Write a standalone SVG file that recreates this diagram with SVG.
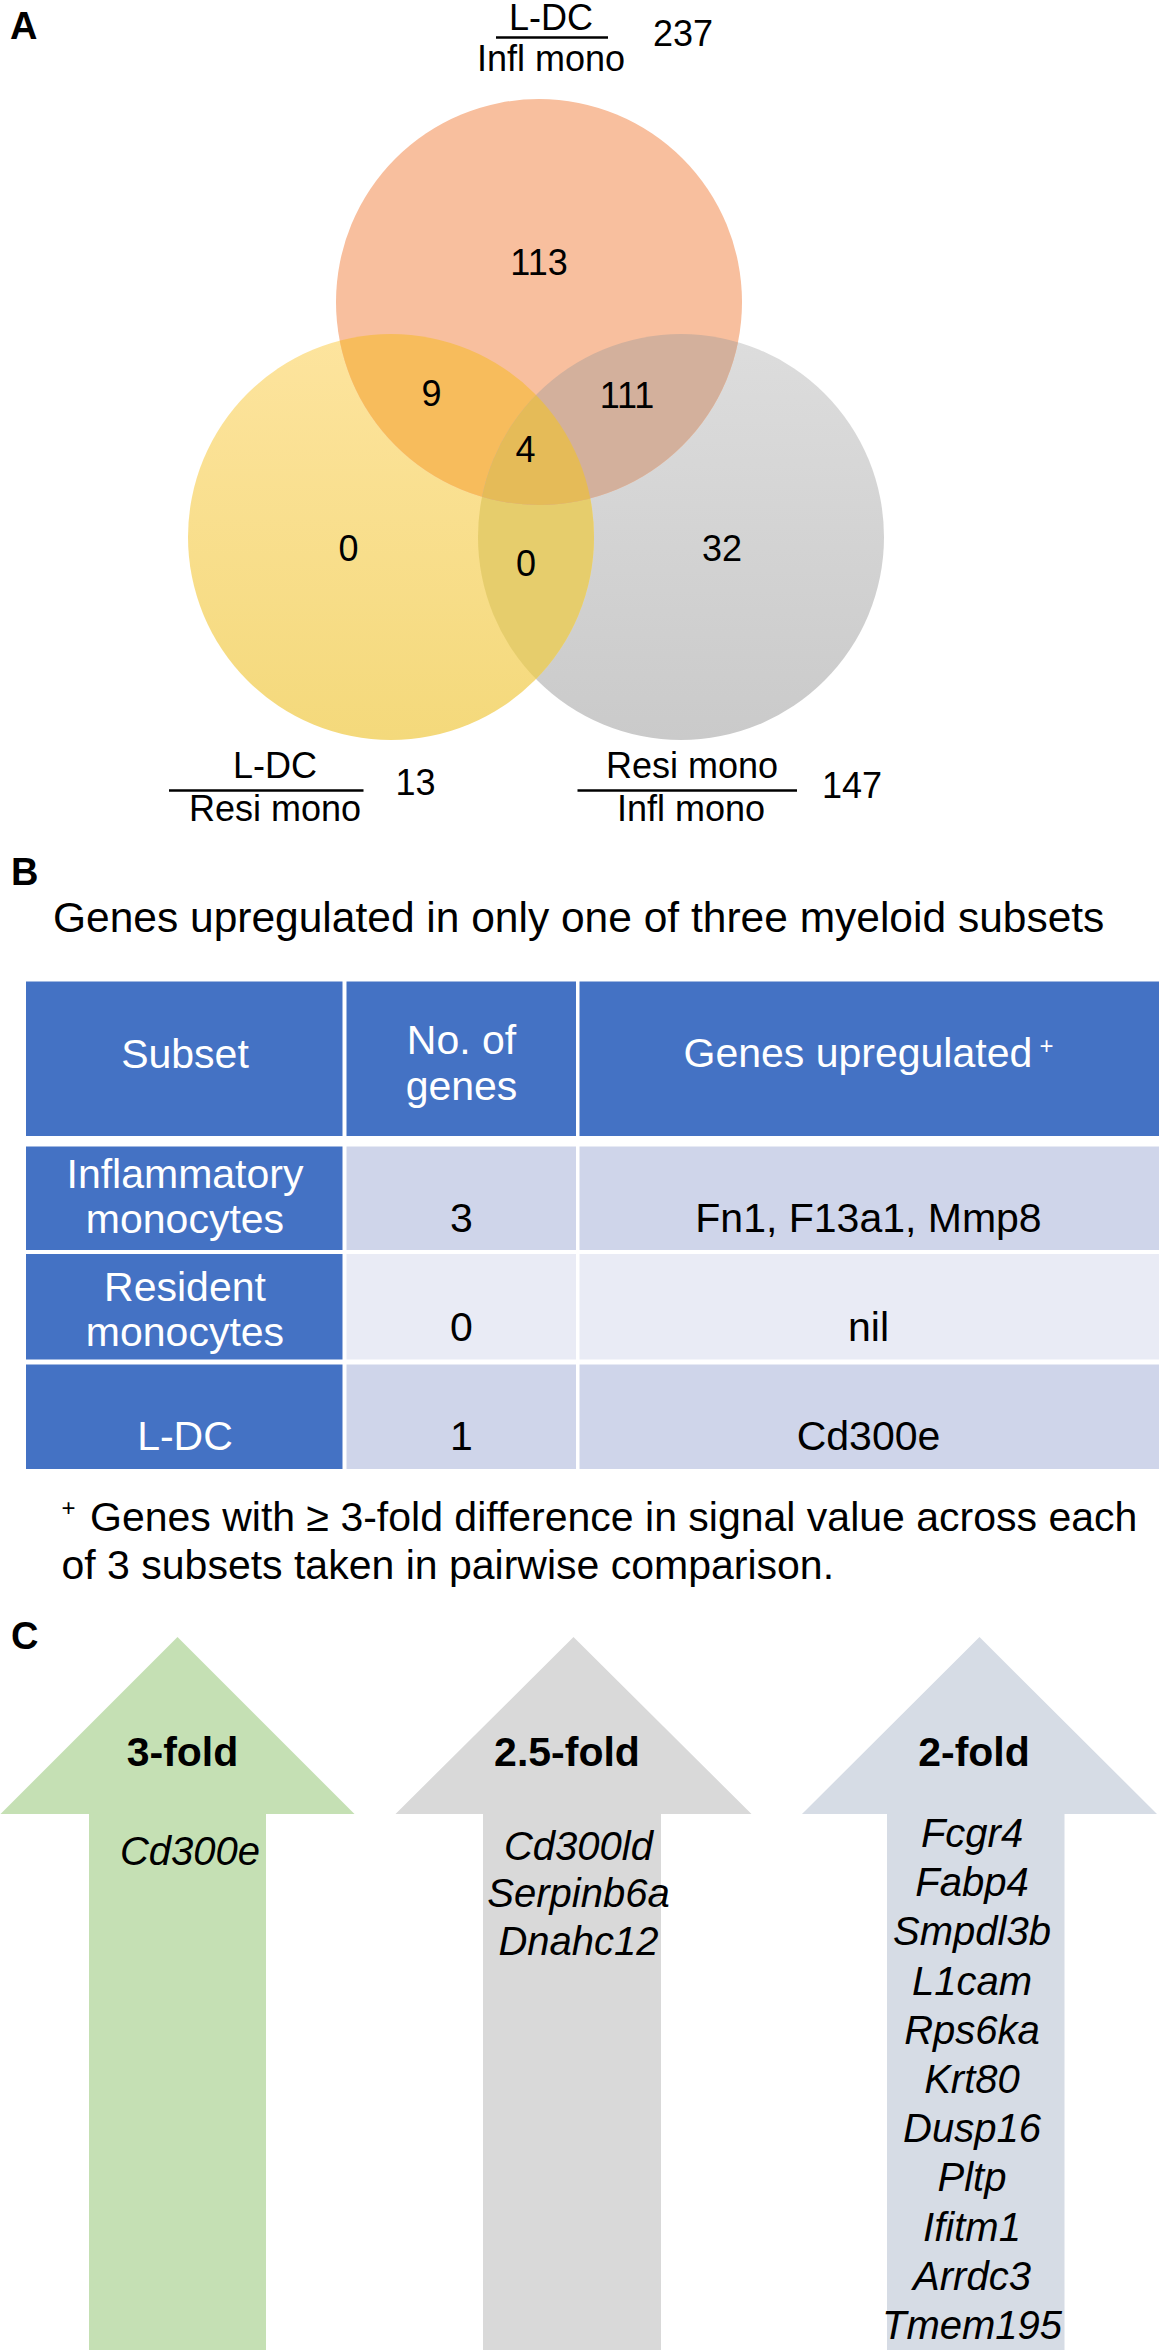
<svg xmlns="http://www.w3.org/2000/svg" width="1159" height="2350" viewBox="0 0 1159 2350">
<style>
text{font-family:"Liberation Sans",Arial,sans-serif;fill:#000}
.v{font-size:36px;text-anchor:middle}
.lbl{font-size:38px;font-weight:bold}
.th{font-size:41px;fill:#fff;text-anchor:middle}
.td{font-size:41px;text-anchor:middle}
.fn{font-size:41px}
.sup{font-size:24px;text-anchor:middle}
.bf{font-size:41px;font-weight:bold;text-anchor:middle}
.it{font-size:40px;font-style:italic;text-anchor:middle}
.bar{stroke:#000;stroke-width:2.5}
.hd{fill:#4472C4}
.r1{fill:#CFD5EA}
.r2{fill:#E9EBF5}
</style>
<defs>
<linearGradient id="gy" x1="0" y1="0" x2="0" y2="1"><stop offset="0" stop-color="#FDE49E"/><stop offset="1" stop-color="#F4D97B"/></linearGradient>
<linearGradient id="gg" x1="0" y1="0" x2="0" y2="1"><stop offset="0" stop-color="#DDDDDD"/><stop offset="1" stop-color="#CACACA"/></linearGradient>
<clipPath id="cS"><circle cx="539" cy="302" r="203"/></clipPath>
<clipPath id="cY"><circle cx="391" cy="537" r="203"/></clipPath>
<clipPath id="cG"><circle cx="681" cy="537" r="203"/></clipPath>
</defs>

<g id="panelA">
<text class="lbl" x="10" y="39">A</text>
<g id="venn">
<circle cx="681" cy="537" r="203" fill="url(#gg)"/>
<circle cx="391" cy="537" r="203" fill="url(#gy)"/>
<circle cx="539" cy="302" r="203" fill="#F8BF9E"/>
<g clip-path="url(#cG)"><circle cx="391" cy="537" r="203" fill="#E6CD6C"/></g>
<g clip-path="url(#cS)"><circle cx="391" cy="537" r="203" fill="#F7BC5C"/></g>
<g clip-path="url(#cS)"><circle cx="681" cy="537" r="203" fill="#D3B09C"/></g>
<g clip-path="url(#cS)"><g clip-path="url(#cY)"><circle cx="681" cy="537" r="203" fill="#E5BB58"/></g></g>
</g>
<g id="venn-numbers">
<text class="v" x="539" y="274.5">113</text>
<text class="v" x="431.5" y="405.5">9</text>
<text class="v" x="627" y="408">111</text>
<text class="v" x="525.5" y="461.5">4</text>
<text class="v" x="348.5" y="561">0</text>
<text class="v" x="526" y="575.5">0</text>
<text class="v" x="722" y="561">32</text>
</g>
<g id="label-top">
<text class="v" x="551" y="30">L-DC</text>
<line class="bar" x1="496" y1="37.5" x2="608" y2="37.5"/>
<text class="v" x="551" y="71">Infl mono</text>
<text class="v" x="683" y="46">237</text>
</g>
<g id="label-left">
<text class="v" x="275" y="777.5">L-DC</text>
<line class="bar" x1="169" y1="790.5" x2="363.5" y2="790.5"/>
<text class="v" x="275" y="821">Resi mono</text>
<text class="v" x="415.5" y="795">13</text>
</g>
<g id="label-right">
<text class="v" x="692" y="777.5">Resi mono</text>
<line class="bar" x1="577.5" y1="790.5" x2="797" y2="790.5"/>
<text class="v" x="691" y="821">Infl mono</text>
<text class="v" x="852" y="798">147</text>
</g>
</g>

<g id="panelB">
<text class="lbl" x="11" y="885">B</text>
<text x="53" y="932" style="font-size:42.5px">Genes upregulated in only one of three myeloid subsets</text>
<g id="table">
<rect class="hd" x="26" y="981.5" width="316.5" height="154.5"/>
<rect class="hd" x="346.5" y="981.5" width="229.5" height="154.5"/>
<rect class="hd" x="579.5" y="981.5" width="579.5" height="154.5"/>
<rect class="hd" x="26" y="1146.5" width="316.5" height="103.5"/>
<rect class="r1" x="346.5" y="1146.5" width="229.5" height="103.5"/>
<rect class="r1" x="579.5" y="1146.5" width="579.5" height="103.5"/>
<rect class="hd" x="26" y="1254" width="316.5" height="105.5"/>
<rect class="r2" x="346.5" y="1254" width="229.5" height="105.5"/>
<rect class="r2" x="579.5" y="1254" width="579.5" height="105.5"/>
<rect class="hd" x="26" y="1364.5" width="316.5" height="104.5"/>
<rect class="r1" x="346.5" y="1364.5" width="229.5" height="104.5"/>
<rect class="r1" x="579.5" y="1364.5" width="579.5" height="104.5"/>
<text class="th" x="185" y="1067.5">Subset</text>
<text class="th" x="461.5" y="1053.5">No. of</text>
<text class="th" x="461.5" y="1099.5">genes</text>
<text x="683.5" y="1066.5" style="font-size:41px;fill:#fff">Genes upregulated</text>
<text class="sup" x="1046.5" y="1054" style="fill:#fff">+</text>
<text class="th" x="185" y="1187.5">Inflammatory</text>
<text class="th" x="185" y="1233">monocytes</text>
<text class="td" x="461.5" y="1231.5">3</text>
<text class="td" x="868.5" y="1231.5">Fn1, F13a1, Mmp8</text>
<text class="th" x="185" y="1300.5">Resident</text>
<text class="th" x="185" y="1346">monocytes</text>
<text class="td" x="461.5" y="1340.5">0</text>
<text class="td" x="868.5" y="1340.5">nil</text>
<text class="th" x="185" y="1449.5">L-DC</text>
<text class="td" x="461.5" y="1449.5">1</text>
<text class="td" x="868.5" y="1449.5">Cd300e</text>
</g>
<g id="footnote">
<text class="sup" x="68.5" y="1515.5">+</text>
<text class="fn" x="90" y="1531">Genes with ≥ 3-fold difference in signal value across each</text>
<text class="fn" x="61.5" y="1579">of 3 subsets taken in pairwise comparison.</text>
</g>
</g>

<g id="panelC">
<text class="lbl" x="11" y="1649">C</text>
<g id="arrow-3fold">
<polygon points="177.5,1637 354.5,1814 266,1814 266,2350 89,2350 89,1814 0.5,1814" fill="#C5E0B4"/>
<text class="bf" x="182.5" y="1766">3-fold</text>
<text class="it" x="190" y="1865">Cd300e</text>
</g>
<g id="arrow-25fold">
<polygon points="573.5,1637 751.5,1814 661,1814 661,2350 483,2350 483,1814 395.5,1814" fill="#D9D9D9"/>
<text class="bf" x="567" y="1766">2.5-fold</text>
<text class="it" x="578.5" y="1860">Cd300ld</text>
<text class="it" x="578.5" y="1907">Serpinb6a</text>
<text class="it" x="578.5" y="1954.5">Dnahc12</text>
</g>
<g id="arrow-2fold">
<polygon points="979.5,1637 1157,1814 1064.5,1814 1064.5,2350 887,2350 887,1814 802,1814" fill="#D6DCE5"/>
<text class="bf" x="974" y="1766">2-fold</text>
<text class="it" x="972" y="1847">Fcgr4</text>
<text class="it" x="972" y="1896">Fabp4</text>
<text class="it" x="972" y="1945">Smpdl3b</text>
<text class="it" x="972" y="1995">L1cam</text>
<text class="it" x="972" y="2044">Rps6ka</text>
<text class="it" x="972" y="2093">Krt80</text>
<text class="it" x="972" y="2142">Dusp16</text>
<text class="it" x="972" y="2191">Pltp</text>
<text class="it" x="972" y="2240.5">Ifitm1</text>
<text class="it" x="972" y="2290">Arrdc3</text>
<text class="it" x="972" y="2339">Tmem195</text>
</g>
</g>
</svg>
